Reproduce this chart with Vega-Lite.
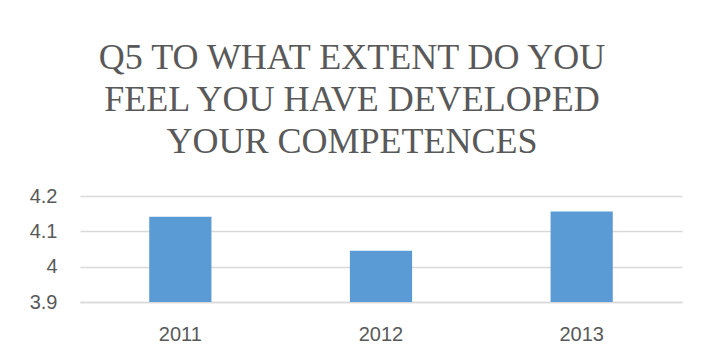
{
  "$schema": "https://vega.github.io/schema/vega-lite/v6.json",
  "autosize": {"type": "none"},
  "padding": {"left": 80, "top": 196, "right": 21, "bottom": 54},
  "width": 602,
  "height": 106,
  "background": "white",
  "title": {
    "text": ["Q5 TO WHAT EXTENT DO YOU", "FEEL YOU HAVE DEVELOPED", "YOUR COMPETENCES"],
    "font": "Liberation Serif",
    "fontSize": 36,
    "fontWeight": "normal",
    "color": "#595959",
    "lineHeight": 42,
    "anchor": "middle",
    "dx": -29,
    "offset": 25
  },
  "data": {
    "values": [
      {"year": "2011", "value": 4.141},
      {"year": "2012", "value": 4.045},
      {"year": "2013", "value": 4.156}
    ]
  },
  "mark": {"type": "bar", "color": "#5B9BD5", "clip": true},
  "encoding": {
    "x": {
      "field": "year",
      "type": "nominal",
      "scale": {"paddingInner": 0.69, "paddingOuter": 0.345},
      "axis": {
        "title": null,
        "labelAngle": 0,
        "ticks": false,
        "domainColor": "#d9d9d9",
        "domainWidth": 1.3,
        "labelFont": "Liberation Sans",
        "labelFontSize": 20,
        "labelColor": "#595959",
        "labelPadding": 22
      }
    },
    "y": {
      "field": "value",
      "type": "quantitative",
      "scale": {"domain": [3.9, 4.2], "zero": false, "nice": false},
      "axis": {
        "title": null,
        "values": [3.9, 4.0, 4.1, 4.2],
        "format": "~g",
        "domain": false,
        "ticks": false,
        "gridColor": "#d9d9d9",
        "gridWidth": 1.3,
        "labelFont": "Liberation Sans",
        "labelFontSize": 20,
        "labelColor": "#595959",
        "labelPadding": 23
      }
    }
  },
  "config": {"view": {"stroke": null}}
}
